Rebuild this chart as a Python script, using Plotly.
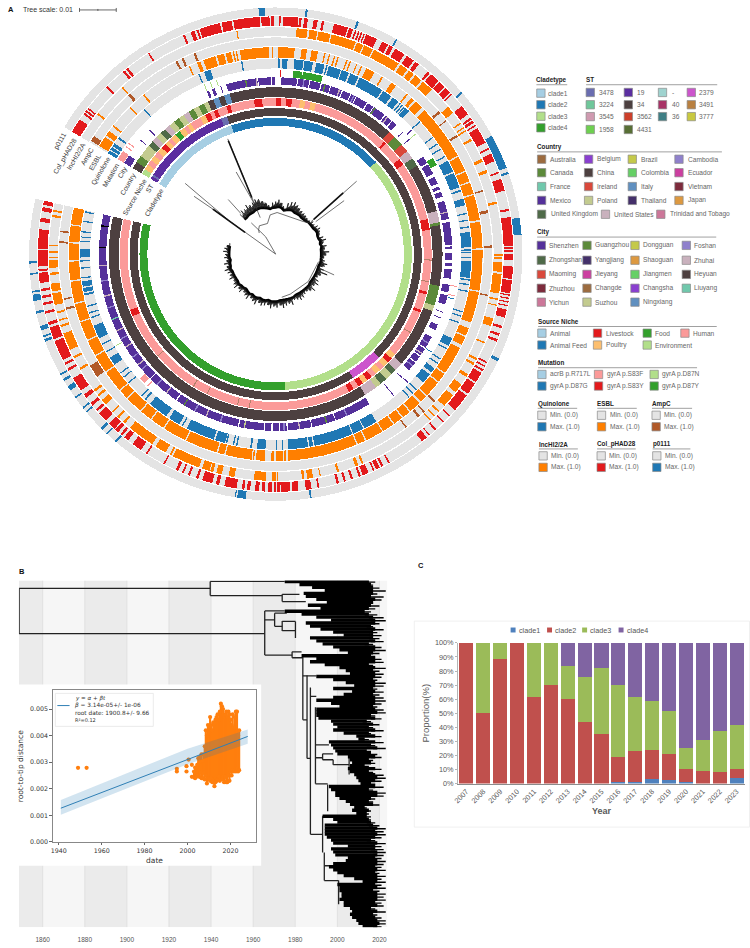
import plotly.graph_objects as go

W, H = 750, 948
CX, CY = 272.5, 252.5

# ---------- panel A, ring data: tree order angle (deg) of each run of tips
p0111_spans = [[356, 357.5], [7, 7.5], [19.2, 19.7], [29.2, 29.6], [48.8, 49.3], [61.3, 69.5], [70.5, 71], [81.5, 85.5],
               [115, 115.8], [171.6, 172], [187, 189], [189.3, 189.6], [220.2, 220.7], [223, 223.4], [224.6, 225.2],
               [230, 230.4], [231.2, 231.6], [234.2, 234.6], [236.4, 237.6], [239, 239.6], [240.6, 241], [249.2, 249.8],
               [250.3, 250.7], [252, 253], [256, 256.6], [259, 260.5], [261, 261.4], [265.2, 265.6], [267.8, 268.3]]
col_spans = [[301, 304.5], [306, 306.5], [306.8, 307.3], [307.6, 308], [314.4, 315], [320, 320.6], [321, 321.6], [327.5, 327.9],
             [337, 337.5], [339, 340], [340.5, 341], [341.3, 346.4], [346.8, 349.3], [349.7, 356.2], [356.5, 358.5],
             [358.8, 359.6], [0.8, 1.2], [1.8, 5.5], [5.7, 6.3], [6.9, 7.8], [9.2, 10.2], [11.2, 11.8], [14.2, 17.7],
             [18, 19], [19.5, 19.9], [20.3, 20.7], [21, 21.4], [21.8, 22.1], [22.4, 25.2], [26.6, 28.2], [28.6, 29.6],
             [30.2, 32.8], [33.5, 35.5], [36, 37], [39.8, 40.4], [40.8, 43.3], [43.6, 45.3], [45.7, 47.2], [47.6, 47.9],
             [51.5, 54], [55, 55.5], [55.8, 56.5], [57, 57.4], [58, 62], [63.5, 63.9], [65, 67], [69.7, 70.1], [71.5, 74.5],
             [79, 79.5], [81, 88], [88.3, 88.7], [89, 89.4], [90, 91.5], [93, 96], [96.3, 99.5], [99.8, 100.1], [100.6, 100.9],
             [101.5, 101.8], [102.4, 102.7], [103.5, 105.5], [107.6, 108.2], [109.5, 110.1], [111, 111.6], [117, 117.4],
             [118, 118.4], [119, 119.5], [120, 122.6], [123, 126], [126.5, 131], [132.7, 133.1], [134.8, 135.2], [137.4, 137.9],
             [139.5, 139.8], [140.5, 142], [151.3, 151.7], [153, 153.6], [154, 155], [155.4, 155.8], [157, 158.5], [159, 159.5],
             [161, 161.5], [162.8, 163.3], [164.5, 165.1], [169.4, 169.8], [171.3, 172.7], [174.5, 176], [176.5, 178.8],
             [179, 179.6], [180, 180.5], [181, 181.8], [182.6, 183.4], [184, 185], [186.2, 187], [187.6, 188.2], [189.5, 192.5],
             [193.8, 194.6], [195.5, 198], [199, 199.6], [201.2, 201.7], [202.8, 203.2], [204.2, 204.9], [207.8, 208.2],
             [212.7, 213.1], [214.5, 217], [218.4, 219.6], [220.2, 220.8], [221.5, 222.4], [222.7, 224.5], [225.5, 228],
             [228.6, 229.2], [230.4, 231.2], [232.8, 233.8], [235, 238.5], [240.6, 241.2], [242.2, 242.8], [243.5, 248.5],
             [249, 252], [252.6, 253.4], [255.5, 256.1], [257.6, 258.2], [259.3, 259.9], [261, 261.6], [263, 265.5],
             [265.9, 266.4], [267, 271], [271.3, 276], [277.8, 278.8], [280.4, 281.4], [282, 283]]
inc_spans = [[308, 308.5], [317.2, 317.6], [350, 350.3], [5.3, 8.1], [8.6, 10.6], [10.9, 14], [14.3, 20.7], [21, 22.7], [23, 25.4],
             [25.7, 32.8], [33.4, 35.5], [36, 37.5], [38, 40], [40.5, 43.5], [49.5, 51.5], [54.5, 54.9], [55.9, 56.3], [56.8, 57.2],
             [59.4, 60], [65.2, 66], [68.2, 69], [76.6, 77.2], [90, 90.4], [90.8, 91.2], [92, 94.5], [95, 100], [101.3, 101.7],
             [102.9, 103.2], [106.5, 108.5], [112.8, 113.2], [117.3, 117.9], [118.7, 119.3], [122, 122.8], [125, 127.5], [128.5, 132],
             [133.8, 134.2], [135.3, 135.7], [136.8, 137.2], [157.2, 157.7], [158.6, 159.4], [163.7, 164.3], [168.5, 168.8],
             [170.5, 172], [172.7, 173.3], [179.4, 179.7], [180, 181], [182.5, 185.5], [190.5, 192], [193.8, 195.2], [196, 196.8],
             [197, 199], [199.8, 207], [207.4, 207.9], [209, 212], [213, 220], [221.7, 222.3], [223.7, 224.3], [225.8, 226.2],
             [228.5, 230], [231.2, 231.8], [232.7, 233.3], [239.3, 239.9], [242.6, 243.2], [245, 249.5], [251.2, 251.8], [252.8, 253.2],
             [254.8, 255.3], [257, 260], [260.5, 262.5], [264.7, 265.3], [266.5, 268.5], [268.9, 269.3], [270.3, 270.8], [272, 272.4],
             [279.4, 280], [280.8, 281.3]]
ampc_spans = [[301.5, 303], [317, 317.8], [332.5, 333.1], [334.2, 334.8], [337.7, 338.3], [48.7, 49.4], [51.8, 52.1], [56.6, 57.2],
              [72.8, 73.2], [78.3, 79.1], [87.7, 88.3], [100.8, 101.2], [132.5, 133.1], [136.6, 137], [138.2, 138.9], [142.8, 143.2],
              [235.5, 239], [255.1, 255.7], [257.8, 258.2], [272.9, 273.4], [275.8, 276.2]]
esbl_spans = [[301.5, 304.5], [305, 306.5], [308, 308.5], [315, 315.3], [320.1, 320.6], [335.1, 335.5], [337.6, 338.6], [339.5, 343],
              [343.5, 345.5], [346, 347.5], [348, 348.4], [348.8, 349.2], [350, 358.2], [358.9, 359.3], [0.7, 5.3], [7.2, 8.7],
              [10, 11.8], [13.6, 14], [14.9, 15.3], [16.4, 16.8], [17.4, 17.8], [20, 20.4], [21, 21.4], [23, 23.3], [24.4, 24.8],
              [26, 28.5], [30.8, 31.3], [34, 35.5], [39.2, 39.7], [41, 42], [42.5, 45], [46, 61.6], [62, 66.2], [66.6, 69.4],
              [69.8, 73], [73.4, 80.5], [81, 88.4], [88.8, 100.2], [100.6, 109.3], [111, 113.2], [113.6, 116], [117, 125],
              [125.4, 128], [128.4, 133], [133.4, 135.5], [136, 139.3], [139.7, 142], [142.4, 145], [145.4, 148.7], [149, 154],
              [154.4, 156.6], [157, 176.5], [177, 177.6], [178, 180], [180.5, 181.2], [183, 185.5], [186, 186.4], [186.7, 194],
              [194.4, 196.2], [196.6, 205.6], [206, 212.5], [212.9, 216.8], [217.2, 220.5], [220.9, 225.7], [226.1, 228.6],
              [229, 235], [235.4, 240.4], [240.8, 245.2], [245.6, 250.7], [251.1, 256], [256.4, 262.3], [262.7, 267.9], [268.3, 273],
              [273.4, 278], [278.3, 283]]
quin_spans = [[301, 302], [302.3, 303.2], [303.5, 304.5], [306.2, 306.8], [317.5, 317.9], [336.7, 337.1], [338.5, 340.5], [349.8, 350.2],
              [0.7, 1.4], [2, 3.5], [5.5, 8.2], [8.5, 11], [12, 14.5], [15, 15.4], [15.8, 19.5], [19.8, 22], [22.5, 25], [25.5, 33],
              [33.4, 36.2], [36.8, 38.8], [39.4, 39.8], [40.2, 40.6], [41, 41.3], [41.5, 43], [47.2, 47.6], [53.2, 53.6], [55.5, 55.9],
              [57.3, 57.7], [59.8, 60.2], [61.5, 65], [65.5, 70], [70.8, 71.3], [73.5, 75.5], [77.8, 78.2], [79.8, 80.2], [81.8, 82.2],
              [83.5, 88], [88.6, 89], [89.3, 89.7], [90.8, 91.2], [92, 97], [97.4, 97.8], [98.8, 99.2], [100.8, 101.2], [107, 107.4],
              [108.3, 108.7], [110.3, 110.7], [115.5, 118], [118.8, 119.2], [122.3, 122.7], [123.8, 124.2], [125.7, 127.2], [128, 131],
              [133.8, 134.2], [135.3, 135.7], [136.8, 137.2], [149, 153], [153.3, 156.6], [156.9, 168.5], [168.9, 170], [170.4, 176.3],
              [177.8, 178.2], [179.6, 180], [183, 185.5], [187, 187.5], [191.3, 191.7], [192.3, 192.7], [194.4, 194.8], [195, 198],
              [198.5, 207], [208.3, 208.7], [209.5, 213], [214, 220], [221.6, 222.2], [223.1, 223.5], [228.6, 229], [230.8, 231.2],
              [232.3, 232.7], [235.5, 238], [239.8, 240.2], [242.3, 242.7], [244.5, 248.5], [250.8, 251.2], [252.3, 252.7], [254.3, 254.7],
              [257.8, 258.4], [258.8, 260], [260.4, 262], [262.8, 263.2], [265.7, 266.1], [267.8, 268.2], [269, 271.5], [273.6, 274],
              [274.9, 275.2], [276.4, 276.8], [279.5, 279.9], [282.3, 282.7]]

mutation_start = [301, 305.5, 306.8, 337, 339, 341, 1.3, 5.5, 8.5, 47.4, 49.2, 58.5, 100, 103, 104, 122, 134, 140, 224, 225.5, 240]
mutation_end = [304, 305.9, 307.2, 337.3, 339.3, 341.3, 1.7, 8.4, 14.8, 47.9, 49.5, 61, 100.3, 103.3, 104.3, 122.3, 134.3, 140.3, 224.4, 227.5, 240.3]
mutation_kind = ["gyrA p.S83F", "gyrA p.S83F", "gyrA p.S83F", "gyrA p.D87N", "gyrA p.D87N", "gyrA p.D87N", "gyrA p.S83Y", "gyrA p.D87Y",
                 "gyrA p.D87Y", "ST19", "gyrA p.D87N", "gyrA p.D87Y", "gyrA p.S83F", "gyrA p.S83F", "gyrA p.D87G", "gyrA p.D87G",
                 "ST19", "ST19", "gyrA p.S83F", "gyrA p.S83F", "gyrA p.D87N"]

city_spans = [[301, 304], [310, 310.3], [314.3, 314.8], [337, 337.8], [338.8, 339.8], [341.7, 342], [343.7, 350], [350.3, 354], [354.3, 358.5],
              [358.8, 359.8], [1.9, 7], [7.3, 9], [9.3, 11], [11.3, 14.8], [15.2, 18], [18.3, 22], [22.4, 25], [25.3, 27], [27.3, 31],
              [31.4, 33.5], [33.8, 38], [38.4, 41], [41.3, 43], [46, 46.4], [49.2, 49.5], [56.5, 59], [59.5, 63], [64, 66.5], [67.5, 68.5],
              [69.3, 71], [72.5, 78.5], [79.5, 87], [87.5, 88.3], [89.5, 92], [93, 94], [95, 98], [100, 102.5], [103.5, 106.5], [109, 109.3],
              [111, 111.3], [113.5, 115.5], [118, 122], [122.4, 125], [125.4, 127.5], [127.9, 131], [134.2, 134.5], [140, 140.3], [148, 160],
              [160.3, 168], [168.3, 176], [176.4, 178.5], [178.9, 181], [181.4, 183.5], [183.9, 192], [192.4, 214], [214.4, 225], [225.4, 283]]
city_stripe_at = [350, 353.5, 9, 16, 21, 26, 34, 39, 76, 120, 124, 129, 156, 163, 172, 177, 190, 198, 203, 207, 211, 218, 222, 229, 231, 234, 238, 241, 244, 248, 252, 256, 261, 266, 272, 279]
city_stripe_kind = ["Guangzhou", "Zhuhai", "Foshan", "Guangzhou", "Zhuhai", "Foshan", "Guangzhou", "Zhuhai", "Zhuhai", "Foshan", "Zhuhai", "Foshan", "Foshan", "Guangzhou", "Zhuhai", "Foshan",
                    "Suzhou", "Foshan", "Zhuhai", "Foshan", "Guangzhou", "Zhuhai", "Foshan", "Foshan", "Zhuhai", "Foshan", "Zhuhai", "Foshan", "Zhuhai", "Liuyang", "Foshan", "Zhuhai", "Foshan", "Zhuhai"]

country_start = [301, 303.5, 306, 308.5, 310.5, 312.5, 314.5, 316.5, 318.5, 320.5, 322.5, 324.5, 326.5, 328.5, 330.5, 332.5, 334.5, 336, 338, 340, 342,
                 344, 43, 45.5, 49, 52, 55, 58, 75, 79, 80, 101, 108, 110, 118, 131, 134, 136, 138.5, 141, 143, 147.5, 160, 183]
country_end = [303.5, 306, 308.5, 310.5, 312.5, 314.5, 316.5, 318.5, 320.5, 322.5, 324.5, 326.5, 328.5, 330.5, 332.5, 334.5, 336, 338, 340, 342, 344,
               43, 45.5, 49, 52, 55, 58, 75, 79, 80, 101, 108, 110, 118, 131, 134, 136, 138.5, 141, 143, 147.5, 160, 183, 283]
country_kind = ["China", "Canada", "Poland", "Poland", "UK", "US", "Poland", "UK", "US", "Poland", "Canada", "Poland", "US", "Canada", "Poland", "Canada", "Poland", "China", "Italy", "China", "Italy",
                "China", "Ireland", "Canada", "Ireland", "US", "UK", "China", "US", "Canada", "China", "Canada", "Poland", "China", "China", "US", "UK", "Poland", "UK", "Poland", "US", "China", "China", "China"]

niche_start = [301, 303, 305, 307, 309, 311, 313, 315, 316.5, 318, 320, 322, 324, 325.5, 327, 329, 331, 333, 335, 336.5, 338, 340, 341.5, 343,
               352, 355, 358, 0, 2, 4, 6, 9, 11, 13, 15, 19, 44, 45, 52.5, 55, 77, 81, 104, 105, 111, 112, 130, 132, 134, 136, 138, 140, 142, 144, 146, 148, 150, 152]
niche_end = [303, 305, 307, 309, 311, 313, 315, 316.5, 318, 320, 322, 324, 325.5, 327, 329, 331, 333, 335, 336.5, 338, 340, 341.5, 343, 352,
             355, 358, 360, 2, 4, 6, 9, 11, 13, 15, 19, 44, 45, 52.5, 55, 77, 81, 104, 105, 111, 112, 130, 132, 134, 136, 138, 140, 142, 144, 146, 148, 150, 152, 283]
niche_kind = ["Environment", "Poultry", "Human", "Poultry", "Human", "Poultry", "Livestock", "Poultry", "Human", "Poultry", "Food", "Poultry", "Human", "Poultry", "Human", "Human", "Poultry", "Livestock", "Human", "Livestock", "Human", "Human", "Livestock", "Human",
              "Livestock", "Human", "Human", "Livestock", "Human", "Livestock", "Human", "Poultry", "Human", "Poultry", "Human", "Human", "Livestock", "Human", "Livestock", "Human", "Livestock", "Human", "Livestock", "Human", "Livestock", "Human", "Poultry", "Livestock", "Poultry", "Human", "Poultry", "Human", "Livestock", "Poultry", "Livestock", "Human", "Livestock", "Human"]
niche_tick_at = [194, 189.6, 205.9, 211.7, 229, 120, 92, 100]
niche_hot_start = [246.5]
niche_hot_end = [249]

st_start = [301, 302.2, 303, 338, 340.5, 49, 111.3, 135, 148]
st_end = [302.2, 303, 338, 340.5, 49, 111.3, 135, 148, 283]
st_kind = ["19", "3478", "19", "3478", "34", "34", "34", "2379", "34"]

clade_start = [301, 341, 47.5, 176]
clade_end = [341, 47.5, 176, 283]
clade_kind = ["clade1", "clade2", "clade3", "clade4"]

# tree in the middle of panel A, zigzag clockwise from 318 deg
tree_tip_r = [54, 56, 55, 58, 56, 57, 59, 58, 55, 52, 47, 52, 53, 55, 52, 46, 53, 55, 56, 54, 52, 51, 50, 49, 48, 48, 50, 49, 51, 52, 50, 48,
              51, 53, 49, 52, 50, 54, 51, 49, 50, 53, 49, 51, 56, 50, 48, 51, 53, 50, 54, 51, 49, 50, 52, 53, 51, 50, 54, 52, 53, 55, 52, 54,
              53, 55, 52, 53, 54, 52, 55, 53, 51, 54, 52, 50, 53, 51, 54, 52, 50, 53, 51, 52, 54, 51, 53, 50, 52, 51, 53, 52, 50]
tree_mid_r = [52, 53, 54, 55, 54, 56, 57, 55, 53, 50, 48, 50, 52, 52, 49, 47, 50, 52, 53, 52, 50, 49, 49, 48, 47, 47, 48, 48, 49, 50, 49, 47,
              49, 50, 48, 50, 49, 51, 49, 48, 49, 51, 47, 49, 50, 48, 47, 49, 50, 49, 51, 49, 48, 49, 50, 50, 49, 49, 51, 50, 51, 52, 50, 52,
              51, 52, 50, 51, 52, 50, 52, 51, 49, 51, 50, 49, 51, 49, 51, 50, 49, 50, 49, 50, 51, 49, 50, 49, 50, 49, 50, 50, 48]
tree_base_r = [47, 47, 48, 48, 48, 49, 49, 49, 48, 47, 46, 47, 47, 48, 47, 45, 46, 47, 47, 46, 46, 46, 45, 45, 45, 46, 46, 46, 46, 47, 47, 46,
               46, 47, 46, 47, 46, 46, 46, 46, 46, 46, 45, 45, 45, 45, 45, 45, 45, 45, 46, 46, 46, 46, 46, 46, 46, 47, 47, 47, 47, 47, 47, 48,
               48, 48, 47, 48, 48, 47, 48, 48, 47, 48, 47, 46, 47, 47, 48, 47, 47, 47, 47, 47, 48, 47, 47, 46, 47, 47, 47, 47, 47]
tree_line_theta = [305.6, 305.6, None, 308, 306, None, 305.3, 306, None, 337.4, 337, None, 334.3, 337, None, 319, 319.4, None,
                   48, 47.5, None, 52, 51, None, 109.6, 108, None, 336, 330, 326, 322, None, 322, 325, 330, None, 330, 345, 352, None, 352, 2, 40, 48, None, 100, 130, 160, 172]
tree_line_r = [0, 78, None, 116, 62, None, 101, 60, None, 126, 40, None, 92, 55, None, 73, 54, None,
               110, 48, None, 87.7, 52, None, 62.6, 47, None, 0, 20, 27, 40, None, 27, 30, 33, None, 33, 32, 40, None, 40, 42, 43, 47, None, 44, 43, 43, 44]
tree_thick_theta = [305.4, 305.6, None, 337.3, 337.1, None, 47.8, 47.6]
tree_thick_r = [38, 78, None, 124, 62, None, 92, 52]

# ---------- panel B
band_years = [1860, 1900, 1940, 1980, 2020]
grid_years = [1860, 1880, 1900, 1920, 1940, 1960, 1980, 2000, 2020]
tip_rows = list(range(583, 934, 3))
tip_left = [1975, 1982, 1988, 1994, 1984, 1985, 1990, 1995, 1986, 1992, 1975, 1983, 1990, 1997, 1985, 1987, 1992, 1998, 2003, 1987, 1990, 1993, 1998, 2001, 2005,
            1983, 1990, 1987, 1994, 2001, 2004, 2006, 1990, 1998, 2004, 2008, 1998, 2007, 2003, 1998, 1990, 1997, 2001, 1990, 1990, 1990, 1991, 1997, 1998, 2000, 1998, 2003, 2009, 2010,
            1996, 1997, 1998, 1999, 2000, 2005, 2006, 2007, 2006, 2005, 2006, 2008, 2009, 2010, 2011, 1996, 1997, 1999, 1999, 2001, 2004, 2006, 2008, 2007, 2009,
            1993, 1998, 2000, 1994, 1994, 1994, 1994, 1995, 1997, 1998, 2005, 1997, 1998, 1999, 2005, 2004, 1998, 1996, 1998, 2000, 2003, 2008, 2012,
            2000, 2001, 2001, 2002, 2002, 2001, 2003, 2003, 2006, 2007, 2006, 2007, 2009, 2010, 2012]
tip_right = [2015, 2016, 2017, 2017, 2017, 2016, 2018, 2017, 2016, 2015, 2013, 2015, 2017, 2018, 2018, 2016, 2018, 2017, 2017, 2017, 2018, 2015, 2018, 2018, 2017,
             2016, 2018, 2018, 2015, 2018, 2017, 2018, 2018, 2017, 2018, 2018, 2017, 2018, 2017, 2018, 2018, 2018, 2017, 2018, 2019, 2016, 2018, 2014, 2017, 2015, 2018, 2015, 2018, 2013,
             2018, 2016, 2019, 2014, 2016, 2018, 2015, 2016, 2013, 2018, 2015, 2018, 2019, 2018, 2016, 2018, 2015, 2019, 2019, 2016, 2015, 2017, 2013, 2015, 2014,
             2014, 2015, 2016, 2017, 2019, 2018, 2019, 2018, 2016, 2019, 2018, 2018, 2019, 2019, 2018, 2019, 2019, 2018, 2019, 2018, 2019, 2019, 2019,
             2018, 2019, 2017, 2019, 2019, 2019, 2018, 2019, 2016, 2019, 2017, 2018, 2019, 2020, 2019]
fringe_right = [2018, 2017, 2020, 2023, 2019, 2022, 2021, 2017, 2020, 2018, 2016, 2019, 2022, 2023, 2020, 2017, 2022, 2019, 2021, 2020, 2022, 2017, 2021, 2023, 2020,
                2018, 2021, 2022, 2017, 2023, 2020, 2022, 2021, 2019, 2023, 2022, 2019, 2022, 2020, 2022, 2023, 2021, 2019, 2022, 2023, 2018, 2021, 2016, 2020, 2017, 2022, 2016, 2021, 2015,
                2022, 2018, 2023, 2016, 2019, 2021, 2017, 2018, 2015, 2021, 2017, 2022, 2023, 2021, 2018, 2022, 2017, 2023, 2022, 2018, 2017, 2020, 2014, 2016, 2015,
                2016, 2016, 2018, 2020, 2023, 2022, 2023, 2021, 2018, 2023, 2021, 2022, 2023, 2022, 2021, 2023, 2022, 2021, 2023, 2020, 2023, 2021, 2023,
                2021, 2023, 2020, 2023, 2022, 2023, 2021, 2022, 2018, 2023, 2019, 2021, 2023, 2023, 2021]
branch_year_h = [[1848.8, 1939.6], [1848.8, 1965.5], [1939.6, 1975], [1939.6, 1973.8], [1973.8, 1982], [1973.8, 1985], [1965.5, 1975], [1965.5, 1970.2], [1965.5, 1978.5], [1970.2, 1973.8],
                 [1970.2, 1976], [1973.8, 1980.1], [1973.8, 1980.1], [1978.5, 1983], [1978.5, 1983.6], [1983.6, 1985.6], [1985.6, 1987.2], [1987.2, 1993], [1989.6, 1995.4],
                 [1993.8, 2000.6], [1983.6, 1990], [1987.2, 1990], [1989.6, 1996], [1989.6, 1993], [1993, 1998], [1993, 1998], [1998, 2005.6], [1993, 1997], [1993.8, 1998]]
branch_row_h = [590, 635.7, 583, 597.3, 596, 603.3, 612.7, 621.7, 657.3, 628.3,
                615, 623.3, 632.7, 654, 660, 722.7, 761.7, 838.3, 787.3,
                885, 678.3, 699, 748, 761, 757, 763, 768, 820, 870]
branch_year_v = [1848.8, 1939.6, 1973.8, 1965.5, 1970.2, 1973.8, 1980.1, 1978.5, 1983.6, 1985.6, 1987.2, 1989.6, 1993, 1993.8, 1995.4, 2000.6, 1993, 1998, 2005.6]
branch_row_v = [[590, 635.7], [583, 597.3], [596, 603.3], [612.7, 657.3], [615, 628.3], [623, 633], [623.3, 640], [654, 660], [657.3, 722.7], [678, 761.7], [690, 838.3], [710, 787.3], [820, 856.7], [856.7, 885], [788, 815], [885, 909], [757, 763], [763, 768], [758, 778]]

# ---------- inset
col_dates = [2003, 2003.5, 2004, 2004.5, 2005, 2005.5, 2006, 2006.5, 2007, 2007.5, 2008, 2008.5, 2009, 2009.5, 2010, 2010.5, 2011, 2011.5, 2012, 2012.5, 2013, 2013.5,
             2014, 2014.5, 2015, 2015.5, 2016, 2016.5, 2017, 2017.5, 2018, 2018.5, 2019, 2019.5, 2020, 2020.5, 2021, 2021.5, 2022, 2022.5, 2023, 2023.5, 2024]
col_low = [.00245, .0024, .00245, .0025, .0025, .00245, .0026, .0024, .0024, .0026, .00235, .0025, .0022, .0024, .00235, .0023, .0024, .00225, .0023, .0021, .00225, .0023,
           .00235, .00245, .0023, .0024, .00235, .00245, .00225, .00245, .00225, .00225, .0025, .0023, .00265, .0025, .0027, .00265, .0027, .00265, .00275, .00265, .0027]
col_high = [.00265, .0028, .0028, .0029, .00315, .0030, .0032, .0033, .00305, .0033, .0036, .0042, .0040, .0044, .0043, .0047, .0044, .0042, .0045, .00445, .0046, .0047,
            .0048, .0046, .0049, .0052, .0051, .0050, .0047, .0048, .0049, .0047, .0049, .0048, .0046, .0044, .0048, .0043, .0047, .0049, .0049, .0040, .0042]
stray_dates = [1949, 1953, 1995, 1995, 1999.5, 1999.5, 2000.5, 2002, 2002]
stray_dist = [.00279, .00279, .00265, .00275, .00285, .00265, .0031, .00245, .0029]
fit_dates = [1941, 2028]
fit_dist = [.00127, .00397]
ci_dates = [1941, 2000, 2028, 2028, 2000, 1941]
ci_dist = [.00158, .00351, .00423, .00369, .00292, .00102]

# ---------- panel C
years = [str(y) for y in range(2007, 2024)]
clade1 = [0, 0, 0, 0, 0, 0, 0, 0, 0, 1.2, 1.2, 3.5, 2.7, 1.2, 0, 0, 4.2]
clade2 = [100, 50, 88.5, 100, 61.5, 70, 60, 44, 35, 17.6, 21.8, 20, 18.6, 8.8, 9, 8.2, 6.3]
clade3 = [0, 50, 11.5, 0, 38.5, 30, 23.5, 32, 47.3, 50.9, 38.5, 35, 30.2, 15.3, 21.8, 29.1, 31.2]
clade4 = [0, 0, 0, 0, 0, 0, 16.5, 24, 17.7, 30.3, 38.5, 41.5, 48.5, 74.7, 69.2, 62.7, 58.3]

# ---------- colours
PALE = "#e4e4e4"
MUT = {"acrB p.R717L": "#a6cee3", "gyrA p.D87G": "#1f78b4", "gyrA p.S83F": "#fb9a99", "gyrA p.S83Y": "#e31a1c", "gyrA p.D87N": "#b2df8a", "gyrA p.D87Y": "#33a02c", "ST19": "#54309a"}
NICHE = {"Animal": "#a6cee3", "Livestock": "#e31a1c", "Food": "#33a02c", "Human": "#fb9a99", "Animal Feed": "#1f78b4", "Poultry": "#fdbf6f", "Environment": "#b2df8a"}
CLADE = {"clade1": "#a6cee3", "clade2": "#1f78b4", "clade3": "#b2df8a", "clade4": "#33a02c"}
ST = {"3478": "#6a6db0", "3224": "#6fc79a", "3545": "#cf9ab0", "1958": "#6ed050", "19": "#5b2ea0", "34": "#4d4040", "3562": "#cc3f2a", "4431": "#586f35",
      "-": "#9fd3cf", "40": "#a83366", "36": "#3f7f85", "2379": "#cc55cc", "3491": "#b98040", "3777": "#c9c940"}
COUNTRY = {"Australia": "#9c6b3f", "Belgium": "#8a3fd0", "Brazil": "#c4c94a", "Cambodia": "#8f80cc", "Canada": "#5c8a3a", "China": "#4d4040", "Colombia": "#66d066", "Ecuador": "#cc3fa0",
           "France": "#70c8ac", "Ireland": "#d9483b", "Italy": "#6090c0", "Vietnam": "#7d2b3c", "Mexico": "#54309a", "Poland": "#c3cb8f", "Thailand": "#44306a", "Japan": "#dd9940",
           "UK": "#4f6a48", "US": "#c9b1bd", "Trinidad and Tobago": "#cc7799"}
CITY = {"Shenzhen": "#54309a", "Zhongshan": "#4f6a48", "Maoming": "#d9483b", "Zhuzhou": "#7d2b3c", "Yichun": "#cc7799", "Guangzhou": "#5c8a3a", "Yangjiang": "#44306a", "Jieyang": "#cc3fa0",
        "Changde": "#9c6b3f", "Suzhou": "#c3cb8f", "Dongguan": "#c4c94a", "Shaoguan": "#dd9940", "Jiangmen": "#66d066", "Changsha": "#8a3fd0", "Ningxiang": "#6090c0",
        "Foshan": "#8f80cc", "Zhuhai": "#c9b1bd", "Heyuan": "#4d4040", "Liuyang": "#70c8ac"}

fig = go.Figure()
shapes = []
notes = []


def fx(x):
    return x / W


def fy(y):
    return 1 - y / H


def label(x, y, text, size=6.6, color="#555555", bold=False, angle=0, anchor="left", family="Liberation Sans"):
    if bold:
        text = "<b>" + text + "</b>"
    notes.append(dict(x=fx(x), y=fy(y), xref="paper", yref="paper", text=text, showarrow=False, xanchor=anchor, yanchor="middle",
                      textangle=angle, font=dict(size=size, color=color, family=family), borderpad=0, borderwidth=0))


def pline(x0, y0, x1, y1, color="#888888", width=0.8):
    shapes.append(dict(type="line", xref="paper", yref="paper", x0=fx(x0), y0=fy(y0), x1=fx(x1), y1=fy(y1), line=dict(color=color, width=width), layer="above"))


def swatch(x, y, color, size=8.4):
    shapes.append(dict(type="rect", xref="paper", yref="paper", x0=fx(x), x1=fx(x + size), y0=fy(y + size / 2), y1=fy(y - size / 2),
                       fillcolor=color, line=dict(color="#8a8a8a", width=0.7), layer="above"))


def ring(starts, ends, colors, r0, r1):
    fig.add_trace(go.Barpolar(theta=[(a + b) / 2 for a, b in zip(starts, ends)], width=[b - a for a, b in zip(starts, ends)],
                              r=[r1 - r0] * len(starts), base=[r0] * len(starts), marker=dict(color=colors, line=dict(width=0)),
                              subplot="polar", hoverinfo="skip", showlegend=False))


def span_ring(spans, r0, r1, color, backing=True):
    if backing:
        ring([301, 0], [360, 283], [PALE, PALE], r0, r1)
    ring([s[0] for s in spans], [s[1] for s in spans], [color] * len(spans), r0, r1)


def kind_ring(starts, ends, kinds, palette, r0, r1):
    # runs that pass the top of the circle are split so the bar stays short
    st_, en_, col = [], [], []
    for a, b, k in zip(starts, ends, kinds):
        if b < a:
            st_ += [a, 0]
            en_ += [360, b]
            col += [palette[k]] * 2
        else:
            st_.append(a)
            en_.append(b)
            col.append(palette[k])
    ring(st_, en_, col, r0, r1)


# ---------- panel A rings, inner to outer
kind_ring(clade_start, clade_end, clade_kind, CLADE, 129.5, 137.5)
kind_ring(st_start, st_end, st_kind, ST, 139.5, 147.5)
kind_ring(niche_start, niche_end, niche_kind, NICHE, 149.5, 157.5)
ring(niche_hot_start, niche_hot_end, [NICHE["Livestock"]], 149.5, 157.5)
ring(niche_tick_at, [a + 0.4 for a in niche_tick_at], ["#b5806a"] * len(niche_tick_at), 149.5, 157.5)
kind_ring(country_start, country_end, country_kind, COUNTRY, 158.5, 168.5)
span_ring(city_spans, 171, 178.5, CITY["Shenzhen"], backing=False)
ring(city_stripe_at, [a + 0.45 for a in city_stripe_at], [CITY[k] for k in city_stripe_kind], 171, 178.5)
kind_ring(mutation_start, mutation_end, mutation_kind, MUT, 179, 186)
span_ring(quin_spans, 187.5, 197.5, "#1f78b4")
span_ring(esbl_spans, 198.5, 209, "#ff7f00")
span_ring(ampc_spans, 210, 218.8, "#b15928")
span_ring(inc_spans, 220, 229, "#ff7f00")
span_ring(col_spans, 230.3, 240, "#e31a1c")
span_ring(p0111_spans, 241, 249, "#1f78b4")

# tree inside the rings
spike_theta, spike_r, base_theta = [], [], []
for i, (tip, mid, base) in enumerate(zip(tree_tip_r, tree_mid_r, tree_base_r)):
    th = 318 + 3.5 * i
    base_theta.append(th)
    spike_theta += [th, th + 0.6, th + 1.2, th + 1.75, th + 2.3, th + 2.9]
    spike_r += [tip, base, mid - 1, base, mid, base]
fig.add_trace(go.Scatterpolar(theta=base_theta, r=tree_base_r, mode="lines", line=dict(color="#000000", width=2.6), subplot="polar", hoverinfo="skip", showlegend=False))
fig.add_trace(go.Scatterpolar(theta=spike_theta, r=spike_r, mode="lines", line=dict(color="#111111", width=0.8), subplot="polar", hoverinfo="skip", showlegend=False))
fig.add_trace(go.Scatterpolar(theta=tree_line_theta, r=tree_line_r, mode="lines", line=dict(color="#333333", width=0.7), subplot="polar", hoverinfo="skip", showlegend=False))
fig.add_trace(go.Scatterpolar(theta=tree_thick_theta, r=tree_thick_r, mode="lines", line=dict(color="#111111", width=1.6), subplot="polar", hoverinfo="skip", showlegend=False))

# ring names at the cut
ring_names = ["p0111", "Col_pHAD28", "IncHI2/2A", "AmpC", "ESBL", "Quinolone", "Mutation", "City", "Country", "Source Niche", "ST", "Cladetype"]
name_x = [55.7, 60.7, 71.3, 82.7, 90.3, 97, 106.3, 118.3, 124.3, 130, 145.3, 150]
name_y = [138.3, 153.3, 154, 154.3, 159.7, 169, 173.3, 170.7, 181.7, 195, 186, 200.7]
for n, x, y in zip(ring_names, name_x, name_y):
    notes.append(dict(x=fx(x), y=fy(y), xref="paper", yref="paper", text=n, showarrow=False, textangle=-60, xanchor="center", yanchor="middle",
                      font=dict(size=6.8, color="#333333", family="Liberation Sans")))

# tree scale
label(18, 6, "Tree scale: 0.01", size=7, color="#333333")
pline(75, 6, 112, 6, "#444444", 0.8)
pline(75, 4, 75, 8, "#444444", 0.8)
pline(93.5, 5, 93.5, 7, "#444444", 0.8)
pline(112, 4, 112, 8, "#444444", 0.8)

label(3, 6, "A", size=7.5, color="#111111", bold=True)
label(14, 573, "B", size=7.5, color="#111111", bold=True)
label(416, 567, "C", size=7.5, color="#111111", bold=True)

# ---------- panel A legends
TXT = "#666666"


def header(x0, x1, y, text):
    label(x0, y, text, size=6.3, color="#222222", bold=True)
    pline(x0, y + 4.8, x1, y + 4.8)


header(535, 566, 76.7, "Cladetype")
for n, y in zip(["clade1", "clade2", "clade3", "clade4"], [90, 101.7, 113.3, 125]):
    swatch(535.3, y, CLADE[n])
    label(547, y, n, color=TXT)

header(585, 717, 76.7, "ST")
st_cols = [["3478", "3224", "3545", "1958"], ["19", "34", "3562", "4431"], ["-", "40", "36"], ["2379", "3491", "3777"]]
st_rows = [89.3, 101.7, 113.7, 126.7]
for col, sx, tx in zip(st_cols, [585, 623.3, 657.7, 686.7], [598, 636, 671, 699]):
    for n, y in zip(col, st_rows):
        swatch(sx, y, ST[n])
        label(tx, y, n, color=TXT)

header(535.7, 721.7, 144.5, "Country")
country_rows = [["Australia", "Belgium", "Brazil", "Cambodia"], ["Canada", "China", "Colombia", "Ecuador"], ["France", "Ireland", "Italy", "Vietnam"], ["Mexico", "Poland", "Thailand", "Japan"]]
for row, y in zip(country_rows, [156.7, 170.3, 184.3, 198.3]):
    for n, sx, tx in zip(row, [536, 583.3, 627.3, 674.3], [549, 596.3, 640.7, 687.3]):
        swatch(sx, y, COUNTRY[n])
        label(tx, y, n, color=TXT)
for key, n, sx, tx in zip(["UK", "US", "Trinidad and Tobago"], ["United Kingdom", "United States", "Trinidad and Tobago"], [536, 600.3, 656], [549.3, 613.3, 669]):
    swatch(sx, 212.3, COUNTRY[key])
    label(tx, 212.3, n, color=TXT)

header(535.7, 716, 230.5, "City")
city_cols = [["Shenzhen", "Zhongshan", "Maoming", "Zhuzhou", "Yichun"], ["Guangzhou", "Yangjiang", "Jieyang", "Changde", "Suzhou"],
             ["Dongguan", "Shaoguan", "Jiangmen", "Changsha", "Ningxiang"], ["Foshan", "Zhuhai", "Heyuan", "Liuyang"]]
for col, sx, tx in zip(city_cols, [535.7, 581.7, 630, 681.7], [548, 593.7, 642.3, 693.7]):
    for n, y in zip(col, [243.7, 258.7, 273, 287, 301]):
        swatch(sx, y, CITY[n])
        label(tx, y, n, color=TXT)

header(536.7, 716.5, 320.8, "Source Niche")
niche_cols = [["Animal", "Animal Feed"], ["Livestock", "Poultry"], ["Food", "Environment"], ["Human"]]
for col, sx, tx in zip(niche_cols, [536.3, 592.3, 642.3, 680.3], [548.7, 604.7, 654.7, 692.7]):
    for n, y in zip(col, [332.3, 344.3]):
        swatch(sx, y, NICHE[n])
        label(tx, y, n, color=TXT)

header(536.7, 696.7, 362.4, "Mutation")
mutation_cols = [["acrB p.R717L", "gyrA p.D87G"], ["gyrA p.S83F", "gyrA p.S83Y"], ["gyrA p.D87N", "gyrA p.D87Y"]]
for col, sx, tx in zip(mutation_cols, [536.3, 593.3, 649.3], [549, 605.7, 661.7]):
    for n, y in zip(col, [374, 385.7]):
        swatch(sx, y, MUT[n])
        label(tx, y, n, color=TXT)

gene_names = ["Quinolone", "ESBL", "AmpC", "IncHI2/2A", "Col_pHAD28", "p0111"]
gene_max = ["#1f78b4", "#ff7f00", "#b15928", "#ff7f00", "#e31a1c", "#1f78b4"]
gene_x = [536.3, 596.3, 651.3, 537.5, 596, 652]
gene_x1 = [576, 636, 691.7, 576.7, 635, 690]
gene_y = [403.4, 403.4, 403.4, 444.4, 444.4, 444.4]
for n, c, x, x1, y in zip(gene_names, gene_max, gene_x, gene_x1, gene_y):
    header(x, x1, y, n)
    swatch(x, y + 11.8, PALE)
    label(x + 12.5, y + 11.8, "Min. (0.0)", color=TXT)
    swatch(x, y + 23.4, c)
    label(x + 12.5, y + 23.4, "Max. (1.0)", color=TXT)

# ---------- panel B
tree_x = dict(domain=[fx(14), fx(385)], range=[1848.7, 2023.8], tickvals=grid_years, showgrid=False, zeroline=False, showline=False, ticks="outside", ticklen=6,
              tickcolor="rgba(0,0,0,0)", tickfont=dict(size=6.5, color="#555555", family="Liberation Sans"), anchor="y")
tree_y = dict(domain=[fy(932), fy(582)], range=[932, 582], visible=False, anchor="x")
band_shapes = []
for y0 in band_years:
    band_shapes.append(dict(type="rect", xref="x", yref="y", x0=y0 - 20 if y0 > 1860 else 1848.7, x1=y0 if y0 > 1860 else 1860, y0=582, y1=932, fillcolor="#ebebeb", line=dict(width=0), layer="below"))
    band_shapes.append(dict(type="rect", xref="x", yref="y", x0=y0, x1=y0 + 20 if y0 < 2020 else 2023.8, y0=582, y1=932, fillcolor="#f6f6f6", line=dict(width=0), layer="below"))
for g in grid_years:
    band_shapes.append(dict(type="line", xref="x", yref="y", x0=g, x1=g, y0=582, y1=932, line=dict(color="#dcdcdc", width=0.8), layer="below"))
band_shapes.append(dict(type="rect", xref="x", yref="y", x0=1848.7, x1=1963.8, y0=687, y1=870, fillcolor="#ffffff", line=dict(width=0), layer="below"))

lx, ly = [], []
for (a, b), r in zip(branch_year_h, branch_row_h):
    lx += [a, b, None]
    ly += [r, r, None]
for yr, (r0, r1) in zip(branch_year_v, branch_row_v):
    lx += [yr, yr, None]
    ly += [r0, r1, None]
fig.add_trace(go.Scatter(x=lx, y=ly, mode="lines", line=dict(color="#222222", width=1.3), xaxis="x", yaxis="y", hoverinfo="skip", showlegend=False))
mx, my, fx_, fy_ = [], [], [], []
for r, a, b, f in zip(tip_rows, tip_left, tip_right, fringe_right):
    mx += [a, b, None]
    my += [r, r, None]
    fx_ += [b - 2, f, None]
    fy_ += [r + 0.7, r + 0.7, None]
fig.add_trace(go.Scatter(x=mx, y=my, mode="lines", line=dict(color="#000000", width=3.4), xaxis="x", yaxis="y", hoverinfo="skip", showlegend=False))
fig.add_trace(go.Scatter(x=fx_, y=fy_, mode="lines", line=dict(color="#000000", width=1.4), xaxis="x", yaxis="y", hoverinfo="skip", showlegend=False))

# ---------- inset root-to-tip
inset_font = dict(size=6.3, color="#333333", family="DejaVu Sans")
inset_x = dict(domain=[fx(48), fx(253)], range=[1937.2, 2032], tickvals=[1940, 1960, 1980, 2000, 2020], showgrid=False, zeroline=False, showline=True, mirror=True,
               linecolor="#888888", linewidth=1, ticks="outside", ticklen=2.5, tickcolor="#666666", tickfont=inset_font, anchor="y2",
               title=dict(text="date", font=dict(size=7.5, color="#333333", family="DejaVu Sans"), standoff=4))
inset_y = dict(domain=[fy(846), fy(693)], range=[0, .0057], tickvals=[0, .001, .002, .003, .004, .005], tickformat=".3f", showgrid=False, zeroline=False, showline=True, mirror=True,
               linecolor="#888888", linewidth=1, ticks="outside", ticklen=2.5, tickcolor="#666666", tickfont=inset_font, anchor="x2",
               title=dict(text="root-to-tip distance", font=dict(size=7.5, color="#333333", family="DejaVu Sans"), standoff=5))
sx, sy = [], []
for d, lo, hi in zip(col_dates, col_low, col_high):
    sx += [d, d, None]
    sy += [lo, hi, None]
fig.add_trace(go.Scatter(x=sx, y=sy, mode="lines+markers", line=dict(color="#ff7f0e", width=2.2), marker=dict(size=4.2, color="#ff7f0e"), xaxis="x2", yaxis="y2", hoverinfo="skip", showlegend=False))
fig.add_trace(go.Scatter(x=stray_dates, y=stray_dist, mode="markers", marker=dict(size=4.2, color="#ff7f0e"), xaxis="x2", yaxis="y2", hoverinfo="skip", showlegend=False))
fig.add_trace(go.Scatter(x=ci_dates, y=ci_dist, mode="lines", fill="toself", fillcolor="rgba(31,119,180,0.2)", line=dict(width=0), xaxis="x2", yaxis="y2", hoverinfo="skip", showlegend=False))
fig.add_trace(go.Scatter(x=fit_dates, y=fit_dist, mode="lines", line=dict(color="#2f7fb5", width=1), xaxis="x2", yaxis="y2", hoverinfo="skip", showlegend=False))

shapes.append(dict(type="rect", xref="paper", yref="paper", x0=fx(50.7), x1=fx(149.3), y0=fy(729.3), y1=fy(696), fillcolor="#ffffff", line=dict(color="#e2e2e2", width=0.7), layer="above"))
pline(52.7, 708.3, 65, 708.3, "#2f7fb5", 1)
label(70, 700.7, "<i>y = α + βt</i>", size=5.6, color="#333333", family="DejaVu Sans")
label(70, 708.3, "<i>β</i> = 3.14e-05+/- 1e-06", size=5.8, color="#333333", family="DejaVu Sans")
label(70, 715.7, "root date: 1900.8+/- 9.66", size=5.8, color="#333333", family="DejaVu Sans")
label(70, 723.3, "R²=0.12", size=5, color="#333333", family="DejaVu Sans")

# ---------- panel C
bar_x = dict(domain=[fx(456), fx(745)], type="category", showgrid=False, zeroline=False, showline=True, linecolor="#8c8c8c", linewidth=1, ticks="",
             tickangle=-45, tickfont=dict(size=7.3, color="#595959", family="Liberation Sans"), anchor="y3",
             title=dict(text="<b>Year</b>", font=dict(size=9, color="#595959", family="Liberation Sans"), standoff=3))
bar_y = dict(domain=[fy(787), fy(645)], range=[0, 100], dtick=10, ticksuffix="%", showgrid=False, zeroline=False, showline=True, linecolor="#b5b5b5", linewidth=0.8,
             ticks="outside", ticklen=2, tickcolor="#b5b5b5", tickfont=dict(size=7.3, color="#595959", family="Liberation Sans"), anchor="x3",
             title=dict(text="Proportion(%)", font=dict(size=9.5, color="#595959", family="Liberation Sans"), standoff=3))
bar_names = ["clade1", "clade2", "clade3", "clade4"]
bar_colors = ["#4f81bd", "#c0504d", "#9bbb59", "#8064a2"]
for name, vals, c in zip(bar_names, [clade1, clade2, clade3, clade4], bar_colors):
    fig.add_trace(go.Bar(x=years, y=vals, name=name, marker=dict(color=c, line=dict(width=0)), xaxis="x3", yaxis="y3", showlegend=False))

shapes.append(dict(type="rect", xref="paper", yref="paper", x0=fx(412), x1=fx(749.5), y0=fy(831), y1=fy(623), fillcolor="rgba(0,0,0,0)", line=dict(color="#ececec", width=0.8), layer="below"))
for name, c, x in zip(bar_names, bar_colors, [509, 545.7, 581, 617.7]):
    shapes.append(dict(type="rect", xref="paper", yref="paper", x0=fx(x), x1=fx(x + 5), y0=fy(634.5), y1=fy(629.5), fillcolor=c, line=dict(width=0), layer="above"))
    label(x + 8, 632, name, size=7.2, color="#555555")

fig.update_layout(
    width=W, height=H, margin=dict(l=0, r=0, t=0, b=0), paper_bgcolor="#ffffff", plot_bgcolor="rgba(0,0,0,0)", barmode="stack", bargap=0.16,
    polar=dict(domain=dict(x=[fx(CX - 250), fx(CX + 250)], y=[fy(CY + 250), fy(CY - 250)]), bgcolor="rgba(0,0,0,0)", barmode="overlay",
               radialaxis=dict(range=[0, 250], visible=False), angularaxis=dict(rotation=90, direction="clockwise", visible=False, thetaunit="degrees")),
    xaxis=tree_x, yaxis=tree_y, xaxis2=inset_x, yaxis2=inset_y, xaxis3=bar_x, yaxis3=bar_y,
    shapes=band_shapes + shapes, annotations=notes, showlegend=False,
)

fig.write_html("out.html", config={"displayModeBar": False}, post_script="document.body.style.margin='0';")
